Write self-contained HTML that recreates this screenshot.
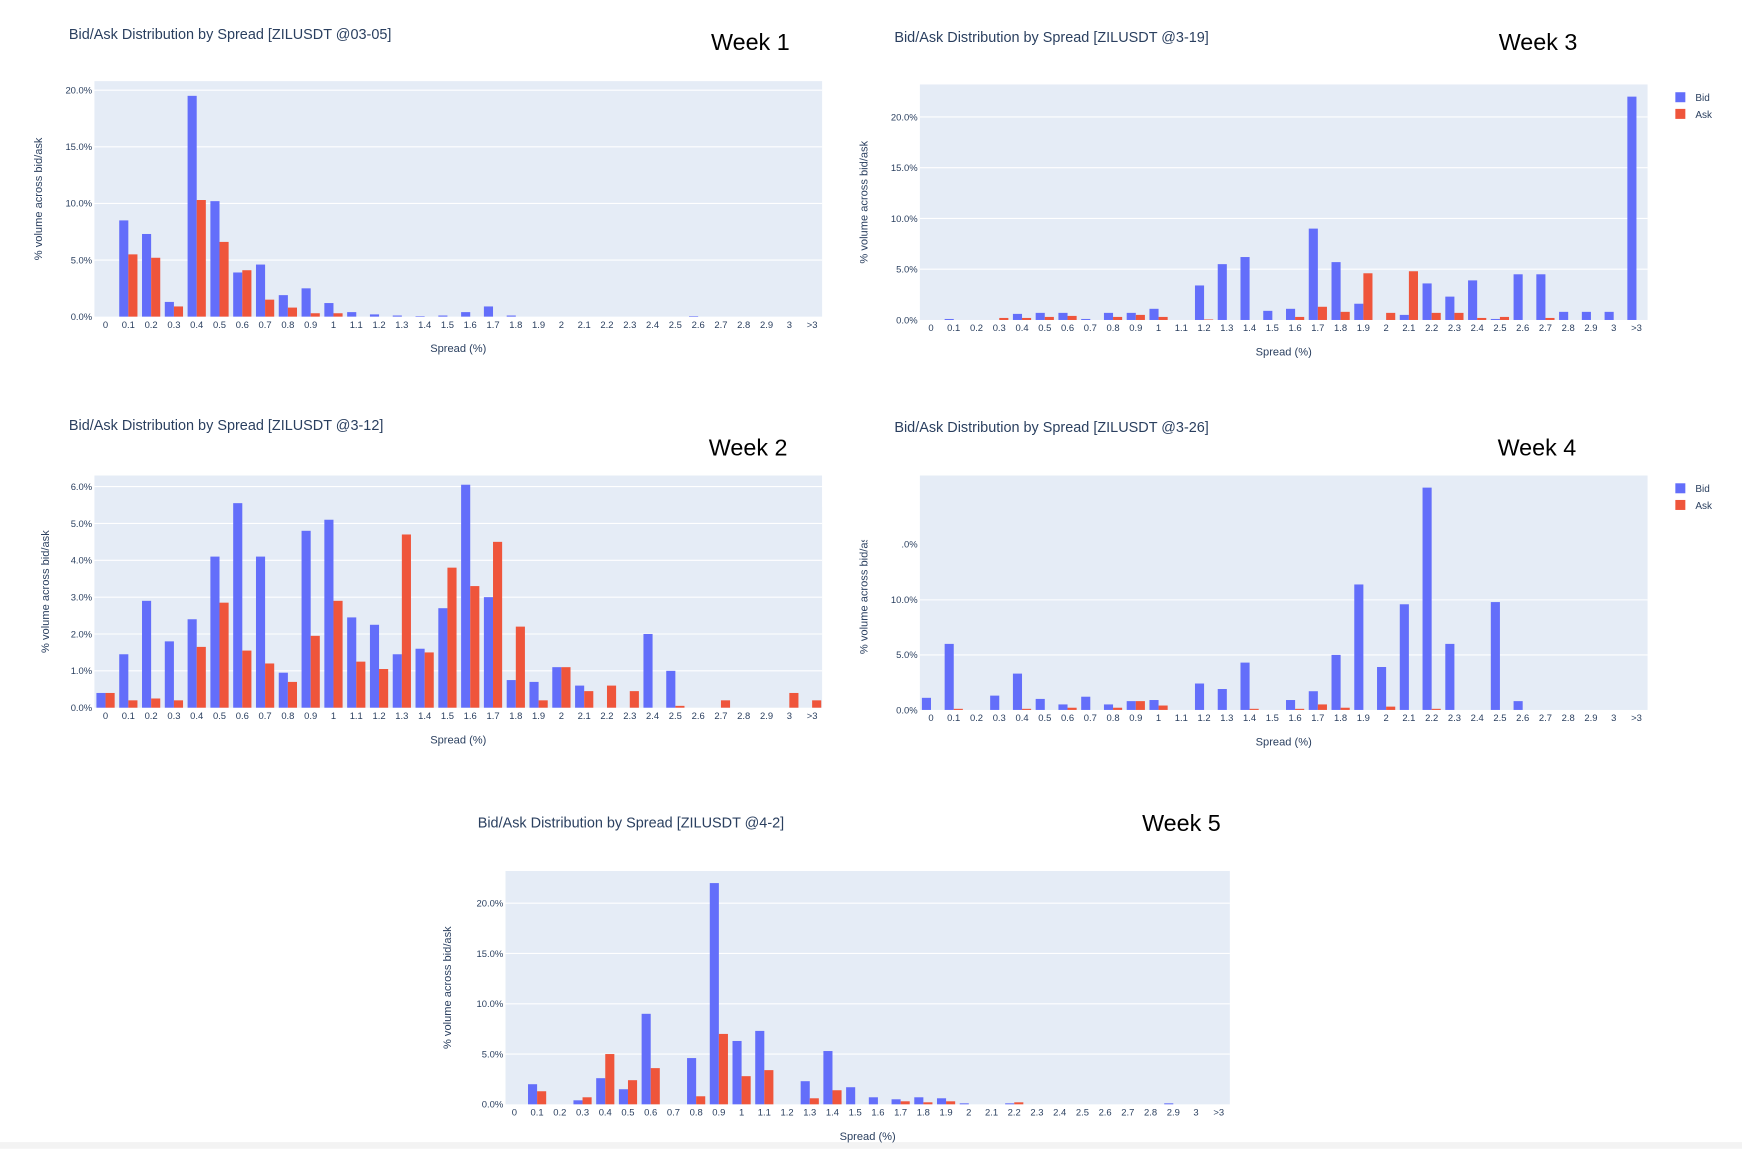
<!DOCTYPE html>
<html><head><meta charset="utf-8"><style>
html,body{margin:0;padding:0;background:#fff;}
svg{display:block;font-family:"Liberation Sans",sans-serif;}
</style></head><body>
<svg id="root" width="1742" height="1154" viewBox="0 0 1568 1038.7" xmlns="http://www.w3.org/2000/svg">
<rect x="0" y="1028" width="1568" height="6" fill="#f3f3f3"/>
</svg>
<script>
const categories = ["0","0.1","0.2","0.3","0.4","0.5","0.6","0.7","0.8","0.9","1","1.1","1.2","1.3","1.4","1.5","1.6","1.7","1.8","1.9","2","2.1","2.2","2.3","2.4","2.5","2.6","2.7","2.8","2.9","3",">3"];
const w1Bid = [0,8.5,7.3,1.3,19.5,10.2,3.9,4.6,1.9,2.5,1.2,0.4,0.2,0.1,0.05,0.1,0.4,0.9,0.1,0,0,0,0,0,0,0,0.05,0,0,0,0,0];
const w1Ask = [0,5.5,5.2,0.9,10.3,6.6,4.1,1.5,0.8,0.3,0.3,0,0,0,0,0,0,0,0,0,0,0,0,0,0,0,0,0,0,0,0,0];
const w2Bid = [0.4,1.45,2.9,1.8,2.4,4.1,5.55,4.1,0.95,4.8,5.1,2.45,2.25,1.45,1.6,2.7,6.05,3.0,0.75,0.7,1.1,0.6,0,0,2.0,1.0,0,0,0,0,0,0];
const w2Ask = [0.4,0.2,0.25,0.2,1.65,2.85,1.55,1.2,0.7,1.95,2.9,1.25,1.05,4.7,1.5,3.8,3.3,4.5,2.2,0.2,1.1,0.45,0.6,0.45,0,0.05,0,0.2,0,0,0.4,0.2];
const w3Bid = [0,0.1,0,0,0.6,0.7,0.7,0.1,0.7,0.7,1.1,0,3.4,5.5,6.2,0.9,1.1,9.0,5.7,1.6,0,0.5,3.6,2.3,3.9,0.1,4.5,4.5,0.8,0.8,0.8,22];
const w3Ask = [0,0,0,0.2,0.2,0.3,0.4,0,0.3,0.5,0.3,0,0.05,0,0,0,0.3,1.3,0.8,4.6,0.7,4.8,0.7,0.7,0.2,0.3,0,0.2,0,0,0,0];
const w4Bid = [1.1,6.0,0,1.3,3.3,1.0,0.5,1.2,0.5,0.8,0.9,0,2.4,1.9,4.3,0,0.9,1.7,5.0,11.4,3.9,9.6,20.2,6.0,0,9.8,0.8,0,0,0,0,0];
const w4Ask = [0,0.1,0,0,0.1,0,0.2,0,0.2,0.8,0.4,0,0,0,0.1,0,0.1,0.5,0.2,0,0.3,0,0.1,0,0,0,0,0,0,0,0,0];
const w5Bid = [0,2.0,0,0.4,2.6,1.5,9.0,0,4.6,22.0,6.3,7.3,0,2.3,5.3,1.7,0.7,0.5,0.7,0.6,0.1,0,0.1,0,0,0,0,0,0,0.1,0,0];
const w5Ask = [0,1.3,0,0.7,5.0,2.4,3.6,0,0.8,7.0,2.8,3.4,0,0.6,1.4,0,0,0.3,0.2,0.3,0,0,0.2,0,0,0,0,0,0,0,0,0];
const ticks20 = [0,5,10,15,20];
const ticks6 = [0,1,2,3,4,5,6];
const ticks4 = [0,5,10];

const NS="http://www.w3.org/2000/svg";
const root=document.getElementById('root');
function mk(tag,attrs,parent){const e=document.createElementNS(NS,tag);for(const k in attrs)e.setAttribute(k,attrs[k]);(parent||root).appendChild(e);return e;}

function chart(o){
  const g=mk('g',{});
  
  
  const bg=mk('rect',{x:o.x0,y:o.top,width:o.x1-o.x0,height:o.y0-o.top,fill:'#e5ecf6'},g);
  
  
  const yv=v=>o.y0-(v/o.yMax)*(o.y0-o.top);
  const step=(o.xLast-o.xFirst)/(categories.length-1);
  const xc=i=>o.xFirst+i*step;
  o.ticks.forEach(t=>{
    const y=yv(t);
    if(t>0){const l=mk('line',{x1:o.x0,x2:o.x1,y1:y,y2:y,stroke:'#fff','stroke-width':1},g);
      
      }
    const tx=mk('text',{x:o.x0-2,y:y+3,'font-size':8.5,fill:'#2a3f5f','text-anchor':'end'},g);
    tx.textContent=t.toFixed(1)+'%';
    
    
  });
  const bw=step*0.4;
  categories.forEach((c,i)=>{
    const x=xc(i);
    const b=o.bid[i], a=o.ask[i];
    const rb=mk('rect',{x:x-bw,y:yv(b),width:bw,height:o.y0-yv(b),fill:'#636efa'},g);
    
    
    const ra=mk('rect',{x:x,y:yv(a),width:bw,height:o.y0-yv(a),fill:'#ef553b'},g);
    
    
    const tl=mk('text',{x:x,y:o.y0+10,'font-size':8.5,fill:'#2a3f5f','text-anchor':'middle'},g);
    tl.textContent=c;
    
    
  });
  const xt=mk('text',{x:(o.x0+o.x1)/2,y:o.y0+32,'font-size':10,fill:'#2a3f5f','text-anchor':'middle'},g);
  xt.textContent='Spread (%)';
  
  
  const cy=(o.top+o.y0)/2;
  const yt=mk('text',{x:o.ytx,y:cy,'font-size':10,fill:'#2a3f5f','text-anchor':'middle',transform:`rotate(-90 ${o.ytx} ${cy})`},g);
  yt.textContent='% volume across bid/ask';
  
  
  const ti=mk('text',{x:o.tx,y:o.ty,'font-size':13,fill:'#2a3f5f'},g);
  ti.textContent=o.title;
  
  
  const wk=mk('text',{x:o.wx,y:o.wy,'font-size':21,fill:'#000'},g);
  wk.textContent=o.week;
  
  
  if(o.legend){
    [['Bid','#636efa'],['Ask','#ef553b']].forEach((p,k)=>{
      const r=mk('rect',{x:o.legend[0],y:o.legend[1]+k*15-5,width:9,height:9,fill:p[1]},g);
      
      
      const t=mk('text',{x:o.legend[0]+18,y:o.legend[1]+k*15+3,'font-size':9,fill:'#2a3f5f'},g);
      t.textContent=p[0];
      
      
    });
  }
  return g;
}
chart({name:'week1-chart',x0:85,x1:740,top:73,y0:285,yMax:20.8,ticks:ticks20,xFirst:95,xLast:731,bid:w1Bid,ask:w1Ask,ytx:38,tx:62,ty:35,title:'Bid/Ask Distribution by Spread [ZILUSDT @03-05]',wx:640,wy:45,week:'Week 1'});
chart({name:'week3-chart',x0:828,x1:1483,top:76,y0:288,yMax:23.2,ticks:ticks20,xFirst:838,xLast:1473,bid:w3Bid,ask:w3Ask,ytx:781,tx:805,ty:38,title:'Bid/Ask Distribution by Spread [ZILUSDT @3-19]',wx:1349,wy:45,week:'Week 3',legend:[1508,88]});
chart({name:'week2-chart',x0:85,x1:740,top:428,y0:637,yMax:6.3,ticks:ticks6,xFirst:95,xLast:731,bid:w2Bid,ask:w2Ask,ytx:44,tx:62,ty:387,title:'Bid/Ask Distribution by Spread [ZILUSDT @3-12]',wx:638,wy:410,week:'Week 2'});
chart({name:'week4-chart',x0:828,x1:1483,top:428,y0:639,yMax:21.3,ticks:ticks4,xFirst:838,xLast:1473,bid:w4Bid,ask:w4Ask,ytx:781,tx:805,ty:389,title:'Bid/Ask Distribution by Spread [ZILUSDT @3-26]',wx:1348,wy:410,week:'Week 4',legend:[1508,440]});
chart({name:'week5-chart',x0:455,x1:1107,top:784,y0:994,yMax:23.2,ticks:ticks20,xFirst:463,xLast:1097,bid:w5Bid,ask:w5Ask,ytx:406,tx:430,ty:745,title:'Bid/Ask Distribution by Spread [ZILUSDT @4-2]',wx:1028,wy:748,week:'Week 5'});
const m=mk('rect',{x:765,y:420,width:50,height:66,fill:'#fff'});


const p=mk('text',{x:826,y:493,'font-size':8.5,fill:'#2a3f5f','text-anchor':'end'});
p.textContent='.0%';


const nm=mk('rect',{x:740,y:426,width:4,height:30,fill:'#fff'});


</script>
</body></html>
